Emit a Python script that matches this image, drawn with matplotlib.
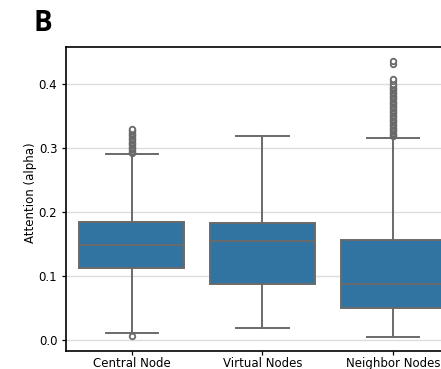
import matplotlib.pyplot as plt

# Attention weight summaries per node group
groups = ["Central Node", "Virtual Nodes", "Neighbor Nodes"]
medians = [0.149, 0.154, 0.0875]
q1 = [0.113, 0.0875, 0.0505]
q3 = [0.184, 0.183, 0.157]
whisker_low = [0.011, 0.018, 0.005]
whisker_high = [0.290, 0.318, 0.316]

central_fliers = [0.007, 0.292, 0.294, 0.296, 0.298, 0.300, 0.302, 0.304,
                  0.306, 0.308, 0.310, 0.312, 0.314, 0.316, 0.318, 0.320,
                  0.322, 0.324, 0.326, 0.328, 0.329]
virtual_fliers = []
neighbor_fliers = [0.318, 0.320, 0.322, 0.324, 0.326, 0.328, 0.330, 0.332,
                   0.334, 0.336, 0.338, 0.340, 0.342, 0.344, 0.346, 0.348,
                   0.350, 0.352, 0.354, 0.356, 0.358, 0.360, 0.362, 0.364,
                   0.366, 0.368, 0.370, 0.372, 0.374, 0.376, 0.378, 0.380,
                   0.382, 0.384, 0.386, 0.388, 0.390, 0.392, 0.394, 0.396,
                   0.398, 0.400, 0.405, 0.408, 0.431, 0.436]

box_color = "#3274a1"
line_color = "#6a6a6a"
lw = 1.4

fig = plt.figure(figsize=(4.41, 3.69), dpi=100)
ax = fig.add_axes([0.1503, 0.0496, 0.8898, 0.8222])

stats = []
for i, name in enumerate(groups):
    stats.append({
        "label": name,
        "med": medians[i],
        "q1": q1[i],
        "q3": q3[i],
        "whislo": whisker_low[i],
        "whishi": whisker_high[i],
        "fliers": [central_fliers, virtual_fliers, neighbor_fliers][i],
    })

ax.bxp(
    stats,
    positions=range(len(groups)),
    widths=0.8,
    patch_artist=True,
    showfliers=True,
    boxprops=dict(facecolor=box_color, edgecolor=line_color, linewidth=lw),
    medianprops=dict(color=line_color, linewidth=lw),
    whiskerprops=dict(color=line_color, linewidth=lw),
    capprops=dict(color=line_color, linewidth=lw),
    capwidths=0.4,
    flierprops=dict(marker="o", markersize=4, markerfacecolor="white",
                    markeredgecolor=line_color, markeredgewidth=1.3),
    zorder=3,
)

ax.set_xlim(-0.5, 2.5)
ax.set_ylim(-0.0167, 0.4573)
ax.set_yticks([0.0, 0.1, 0.2, 0.3, 0.4])
ax.set_xticks(range(len(groups)))
ax.set_xticklabels(groups)
ax.yaxis.grid(True, color="#dddddd", linewidth=1.0, zorder=0)
ax.set_axisbelow(True)
ax.tick_params(labelsize=8.5, length=3, width=0.9)
ax.tick_params(axis="x", pad=1.5)
ax.set_ylabel("Attention (alpha)", fontsize=8.5)
ax.yaxis.set_label_coords(-0.075, 0.52)
for s in ax.spines.values():
    s.set_linewidth(1.2)

# panel letter
fig.text(0.075, 0.917, "B", fontsize=20, fontweight="bold",
         family="Open Sans", va="baseline", ha="left")

fig.savefig("out.png", dpi=100)
